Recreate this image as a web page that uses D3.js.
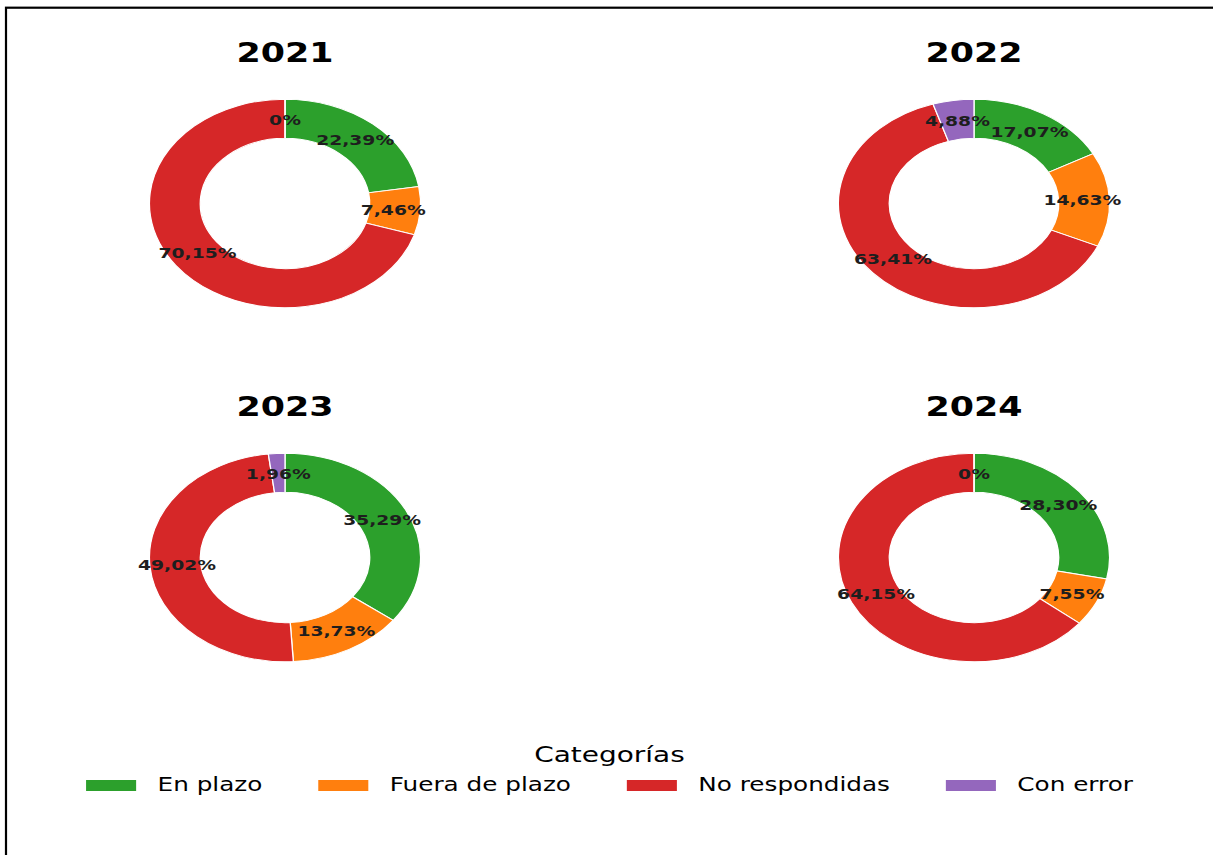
<!DOCTYPE html>
<html>
<head>
<meta charset="utf-8">
<script src="https://cdn.jsdelivr.net/npm/d3@7"></script>
<style>
    body { margin: 0; background: #fff; }
    svg { display: block; font-family: "DejaVu Sans", sans-serif; }
</style>
</head>
<body>
<div id="chart"></div>
<script>
// Data
const years = ["2021", "2022", "2023", "2024"];
const categories = ["En plazo", "Fuera de plazo", "No respondidas", "Con error"];
const colors = ["#2ca02c", "#ff7f0e", "#d62728", "#9467bd"];
const values2021 = [22.39, 7.46, 70.15, 0];
const values2022 = [17.07, 14.63, 63.41, 4.88];
const values2023 = [35.29, 13.73, 49.02, 1.96];
const values2024 = [28.30, 7.55, 64.15, 0];
const yearValues = [values2021, values2022, values2023, values2024];

class DonutGrid {
    constructor(parentElement) {
        this.parentElement = parentElement;
        this.initVis();
    }

    initVis() {
        let vis = this;

        vis.width = 1213;
        vis.height = 855;
        // the figure is stretched horizontally
        vis.stretch = 1.3;

        vis.svg = d3.select("#" + vis.parentElement).append("svg")
            .attr("width", vis.width)
            .attr("height", vis.height);

        // frame (only left and top edges visible)
        vis.svg.append("rect")
            .attr("x", 6).attr("y", 7.7)
            .attr("width", 1400).attr("height", 1000)
            .attr("fill", "none")
            .attr("stroke", "#000")
            .attr("stroke-width", 2.2);

        vis.g = vis.svg.append("g")
            .attr("transform", `scale(${vis.stretch},1)`);

        // grid positions of each donut (in unstretched units)
        vis.col = d3.scalePoint().domain([0, 1]).range([285 / vis.stretch, 974 / vis.stretch]);
        vis.row = d3.scalePoint().domain([0, 1]).range([203.5, 557.5]);

        vis.radius = 104.3;
        vis.arc = d3.arc()
            .innerRadius(vis.radius * 0.625)
            .outerRadius(vis.radius);
        vis.labelArc = d3.arc()
            .innerRadius(vis.radius * 0.8)
            .outerRadius(vis.radius * 0.8);
        vis.pie = d3.pie().sort(null).value(d => d);
        vis.color = d3.scaleOrdinal().domain(categories).range(colors);

        vis.updateVis();
    }

    updateVis() {
        let vis = this;

        years.forEach((year, i) => {
            let cx = vis.col(i % 2), cy = vis.row(Math.floor(i / 2));

            // Title
            vis.g.append("text")
                .attr("x", cx)
                .attr("y", cy - 141.8)
                .attr("text-anchor", "middle")
                .style("font-size", "26.8px")
                .style("font-weight", "bold")
                .text(year);

            let donut = vis.g.append("g")
                .attr("transform", `translate(${cx},${cy})`);

            let slices = vis.pie(yearValues[i]);

            donut.selectAll("path")
                .data(slices)
                .enter()
                .append("path")
                .attr("d", vis.arc)
                .attr("fill", (d, j) => vis.color(categories[j]))
                .attr("stroke", "#fff")
                .attr("stroke-width", 1);

            donut.selectAll(".pct")
                .data(slices)
                .enter()
                .append("text")
                .attr("class", "pct")
                .attr("transform", d => `translate(${vis.labelArc.centroid(d)})`)
                .attr("text-anchor", "middle")
                .attr("dy", "0.36em")
                .style("font-size", "14.4px")
                .style("font-weight", "bold")
                .style("fill", "#1e1e1e")
                .text(d => d.data === 0 ? "0%" : d.data.toFixed(2).replace(".", ",") + "%");
        });

        // Legend
        let legendCenter = 609.5 / vis.stretch;
        let legend = vis.g.append("g");

        legend.append("text")
            .attr("x", legendCenter)
            .attr("y", 762)
            .attr("text-anchor", "middle")
            .style("font-size", "21.5px")
            .text("Categorías");

        let handleW = 38.5, handleH = 11, textPad = 16.5, colSpace = 43;
        let items = legend.selectAll(".item")
            .data(categories)
            .enter()
            .append("g")
            .attr("class", "item");

        items.append("rect")
            .attr("width", handleW)
            .attr("height", handleH)
            .attr("y", 780)
            .attr("fill", d => vis.color(d));

        items.append("text")
            .attr("x", handleW + textPad)
            .attr("y", 791.5)
            .style("font-size", "19px")
            .text(d => d);

        let widths = [];
        items.selectAll("text").each(function () { widths.push(this.getComputedTextLength()); });
        let total = d3.sum(widths) + categories.length * (handleW + textPad) + (categories.length - 1) * colSpace;
        let x = legendCenter - total / 2;
        items.attr("transform", (d, j) => {
            let pos = x;
            x += handleW + textPad + widths[j] + colSpace;
            return `translate(${pos},0)`;
        });
    }
}

new DonutGrid("chart");
</script>
</body>
</html>
